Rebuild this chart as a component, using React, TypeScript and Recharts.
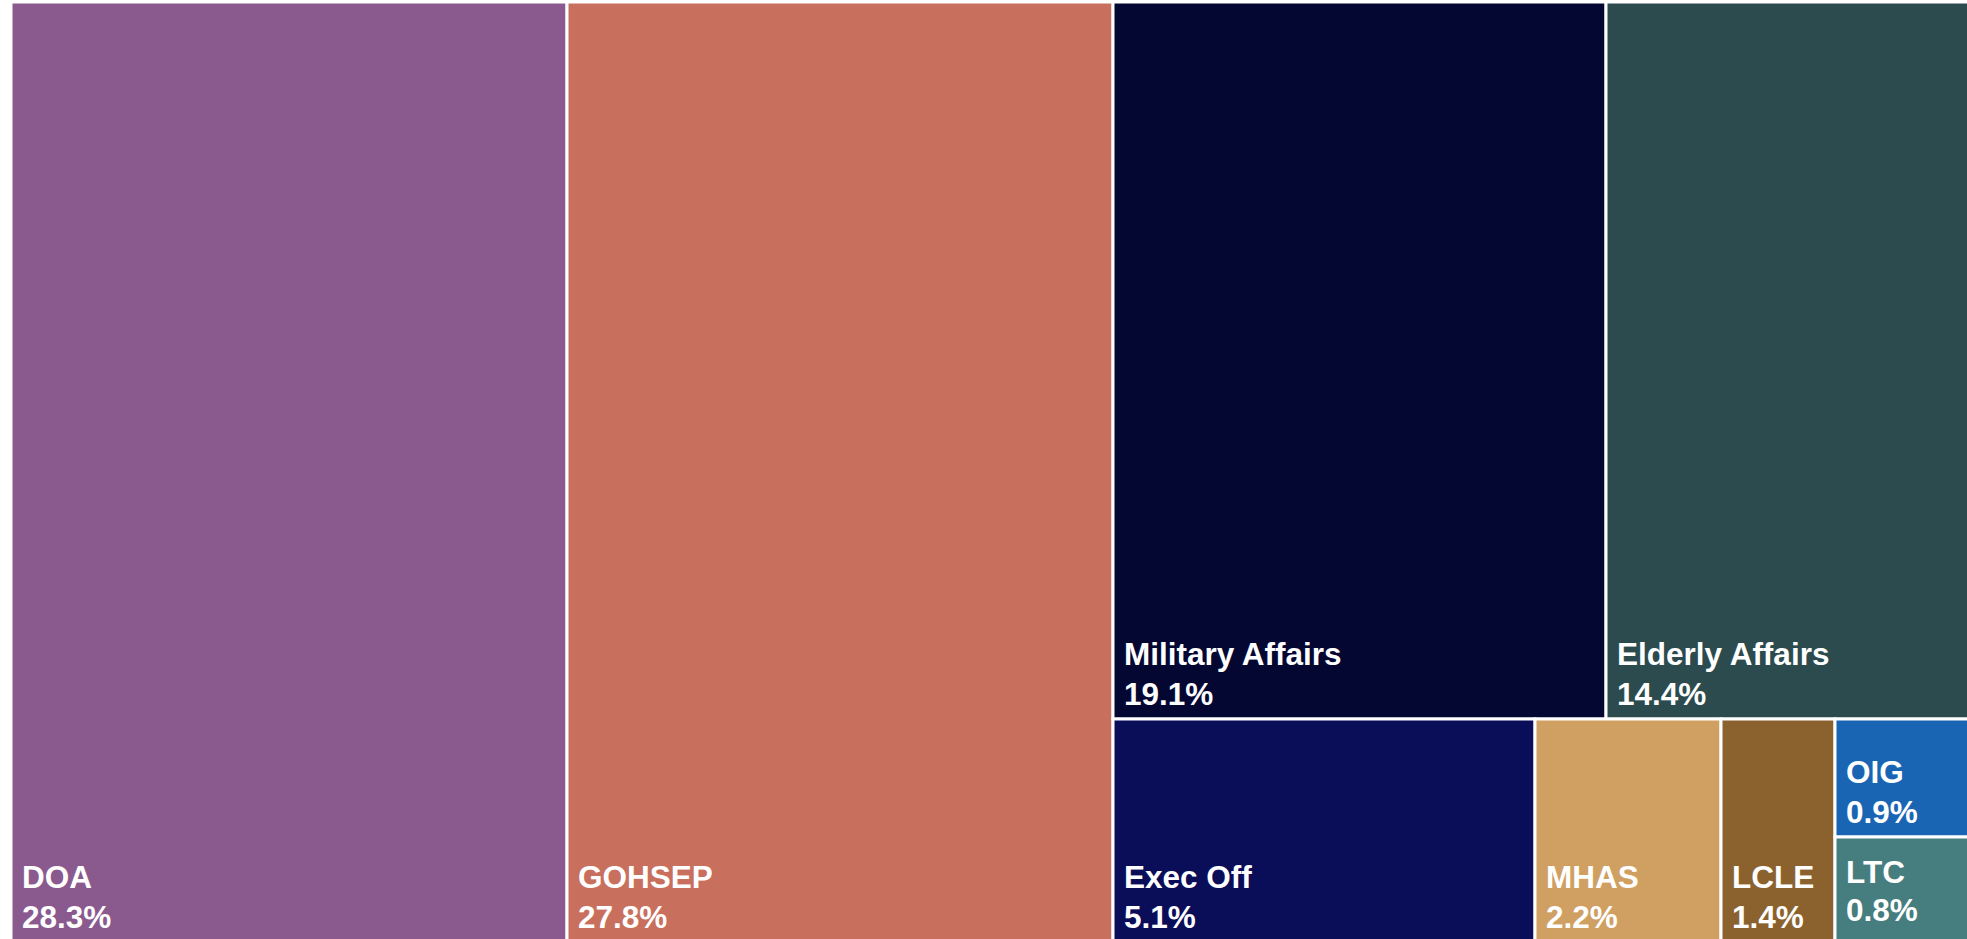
import { Treemap } from 'recharts'

// share of total, by agency (percent, labels show one decimal)
const agencies = ['DOA', 'GOHSEP', 'Military Affairs', 'Elderly Affairs', 'Exec Off', 'MHAS', 'LCLE', 'OIG', 'LTC']
const shares = [28.3, 27.8, 19.14, 14.36, 5.1, 2.24, 1.38, 0.9, 0.78]
const colors = ['#8a598e', '#c96f5d', '#050733', '#2b4b4e', '#0a0d57', '#d09f62', '#8b622e', '#1a65b3', '#467d7f']

const data = agencies.map((name, i) => ({ name, size: shares[i], color: colors[i] }))

const FONT = '"Liberation Sans", Arial, Helvetica, sans-serif'

function Cell(props: any) {
  const { x, y, width, height, depth, name, size, color } = props
  if (!depth) return null
  // short tiles get their label centred, the rest sit bottom-left
  const small = height < 110
  const nameY = small ? y + height / 2 - 7 : y + height - 54
  const pctY = small ? y + height / 2 + 31 : y + height - 14
  return (
    <g>
      <rect x={x} y={y} width={width} height={height} fill={color} stroke="#fff" strokeWidth={3} />
      <text x={x + 11} y={nameY} fill="#fff" stroke="none" fontFamily={FONT} fontWeight="bold" fontSize={31.5}>
        {name}
      </text>
      <text x={x + 11} y={pctY} fill="#fff" stroke="none" fontFamily={FONT} fontWeight="bold" fontSize={31.5}>
        {size.toFixed(1)}%
      </text>
    </g>
  )
}

export default function App() {
  return (
    <div style={{ position: 'fixed', left: 0, top: 0, width: 1967, height: 939, overflow: 'hidden', background: '#fff' }}>
      <div style={{ position: 'absolute', left: 11, top: 2 }}>
        <Treemap
          width={1965}
          height={940}
          data={data}
          dataKey="size"
          nameKey="name"
          aspectRatio={1}
          stroke="#fff"
          isAnimationActive={false}
          content={<Cell />}
        />
      </div>
    </div>
  )
}
